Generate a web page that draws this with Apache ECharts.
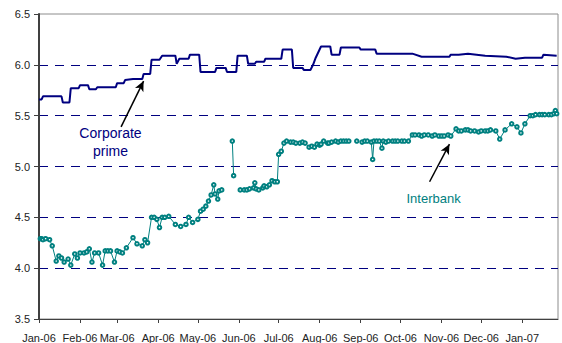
<!DOCTYPE html>
<html>
<head>
<meta charset="utf-8">
<script src="https://cdn.jsdelivr.net/npm/echarts@6/dist/echarts.min.js"></script>
<style>
  html, body { margin: 0; padding: 0; background: #fff; }
  #chart { width: 562px; height: 343px; }
</style>
</head>
<body>
<div id="chart"></div>
<script>
// Month boundaries shown on the x axis and their labels
const monthStarts = ['2006-01-01','2006-02-01','2006-03-01','2006-04-01','2006-05-01','2006-06-01',
  '2006-07-01','2006-08-01','2006-09-01','2006-10-01','2006-11-01','2006-12-01','2007-01-01'];
const monthLabels = ['Jan-06','Feb-06','Mar-06','Apr-06','May-06','Jun-06',
  'Jul-06','Aug-06','Sep-06','Oct-06','Nov-06','Dec-06','Jan-07'];
const yTicks = [3.5, 4.0, 4.5, 5.0, 5.5, 6.0, 6.5];

// Corporate prime rate (percent)
const primeDates = ['2006-01-01','2006-01-03','2006-01-04','2006-01-18','2006-01-19','2006-01-24','2006-01-25',
  '2006-01-31','2006-02-01','2006-02-07','2006-02-08','2006-02-13','2006-02-14','2006-02-28','2006-03-01',
  '2006-03-06','2006-03-07','2006-03-13','2006-03-20','2006-03-21','2006-03-26','2006-03-27','2006-04-02',
  '2006-04-04','2006-04-14','2006-04-15','2006-04-17','2006-04-24','2006-04-25','2006-05-02','2006-05-03',
  '2006-05-14','2006-05-15','2006-05-22','2006-05-23','2006-05-30','2006-05-31','2006-06-07','2006-06-08',
  '2006-06-13','2006-06-14','2006-06-20','2006-06-21','2006-07-03','2006-07-04','2006-07-11','2006-07-12',
  '2006-07-19','2006-07-20','2006-07-25','2006-07-27','2006-07-29','2006-08-02','2006-08-09','2006-08-10',
  '2006-08-16','2006-08-17','2006-08-31','2006-09-01','2006-09-12','2006-09-13','2006-10-10','2006-10-17',
  '2006-11-07','2006-11-08','2006-11-14','2006-11-21','2006-12-04','2006-12-20','2006-12-27','2007-01-03',
  '2007-01-16','2007-01-17','2007-01-27'];
const primeValues = [5.66,5.66,5.69,5.69,5.63,5.63,5.77,
  5.77,5.80,5.80,5.76,5.76,5.78,5.78,5.82,
  5.82,5.85,5.86,5.86,5.91,5.91,6.05,6.05,
  6.09,6.09,6.01,6.06,6.06,6.10,6.10,5.93,
  5.93,5.97,5.97,5.93,5.93,6.09,6.09,6.01,
  6.01,6.03,6.03,6.06,6.06,6.15,6.15,5.97,
  5.97,5.95,5.95,6.00,6.07,6.18,6.18,6.10,
  6.10,6.17,6.17,6.15,6.15,6.11,6.11,6.08,
  6.08,6.10,6.10,6.11,6.09,6.08,6.06,6.07,
  6.07,6.10,6.09];

// Interbank rate (percent); null marks a break in the line
const interbankDates = [
  '2006-01-02','2006-01-03','2006-01-04','2006-01-06','2006-01-09','2006-01-11','2006-01-14','2006-01-16',
  '2006-01-18','2006-01-20','2006-01-23','2006-01-25','2006-01-28','2006-01-30','2006-02-01','2006-02-04',
  '2006-02-06','2006-02-08','2006-02-10','2006-02-12','2006-02-15','2006-02-18','2006-02-20','2006-02-22',
  '2006-02-24','2006-02-27','2006-03-01','2006-03-03','2006-03-05','2006-03-08','2006-03-13','2006-03-16',
  '2006-03-20','2006-03-22','2006-03-24','2006-03-27','2006-03-29','2006-03-31','2006-04-02','2006-04-04',
  '2006-04-06','2006-04-09','2006-04-14','2006-04-18','2006-04-22','2006-04-24','2006-04-27','2006-05-01',
  '2006-05-03','2006-05-05','2006-05-07','2006-05-09','2006-05-11','2006-05-13','2006-05-14','2006-05-16',
  '2006-05-17','2006-05-19','2006-05-23','2006-05-27','2006-05-28','2006-05-30',
  '2006-06-02','2006-06-05','2006-06-07','2006-06-09','2006-06-12','2006-06-13','2006-06-14','2006-06-16',
  '2006-06-19','2006-06-20','2006-06-22','2006-06-24','2006-06-26','2006-06-28','2006-06-30',
  '2006-07-01','2006-07-03','2006-07-05','2006-07-07','2006-07-10','2006-07-12','2006-07-14','2006-07-17',
  '2006-07-19','2006-07-21','2006-07-24','2006-07-26','2006-07-28','2006-07-30','2006-08-01','2006-08-02',
  '2006-08-04','2006-08-07','2006-08-08','2006-08-10','2006-08-13','2006-08-15','2006-08-17','2006-08-19',
  '2006-08-21','2006-08-23','2006-08-26','2006-08-29','2006-08-31',
  '2006-09-02','2006-09-04','2006-09-06','2006-09-09','2006-09-10','2006-09-11','2006-09-13','2006-09-15',
  '2006-09-17','2006-09-18','2006-09-20','2006-09-22','2006-09-25','2006-09-27','2006-09-29','2006-10-02',
  '2006-10-04','2006-10-07','2006-10-10','2006-10-12','2006-10-15','2006-10-17','2006-10-19','2006-10-22',
  '2006-10-25','2006-10-27','2006-10-30','2006-11-01','2006-11-03','2006-11-06','2006-11-08','2006-11-12',
  '2006-11-14','2006-11-16','2006-11-19','2006-11-21','2006-11-23','2006-11-26','2006-11-29','2006-12-01',
  '2006-12-04','2006-12-06','2006-12-08','2006-12-12','2006-12-15','2006-12-19','2006-12-24','2006-12-28',
  '2006-12-31','2007-01-03','2007-01-07','2007-01-09','2007-01-11','2007-01-14','2007-01-16','2007-01-18',
  '2007-01-21','2007-01-23','2007-01-25','2007-01-26','2007-01-27'];
const interbankValues = [
  4.29,4.29,4.28,4.29,4.28,4.22,4.07,4.12,
  4.10,4.06,4.09,4.03,4.14,4.10,4.15,4.15,
  4.16,4.19,4.06,4.15,4.15,4.03,4.17,4.17,
  4.17,4.06,4.17,4.16,4.15,4.20,4.30,4.24,
  4.22,4.28,4.25,4.50,4.50,4.48,4.40,4.50,
  4.50,4.51,4.43,4.41,4.43,4.50,4.45,4.48,
  4.56,4.58,4.61,4.66,4.72,4.82,4.73,4.68,
  4.76,4.77,null,5.25,4.91,null,
  4.77,4.77,4.77,4.78,4.79,4.84,4.78,4.77,
  4.79,4.81,4.80,4.82,4.86,4.85,4.85,
  5.12,5.15,5.23,5.25,5.24,5.24,5.23,5.23,
  5.24,5.23,5.19,5.20,5.19,5.22,5.21,5.22,
  5.25,5.23,5.23,5.24,5.25,5.24,5.25,5.25,
  5.25,5.25,null,5.25,null,
  5.24,5.25,5.25,5.24,5.07,5.25,5.25,5.25,
  5.18,5.25,5.24,5.25,5.25,5.25,5.25,5.25,
  5.25,5.25,5.31,5.31,5.31,5.30,5.31,5.31,
  5.30,5.31,5.30,5.30,5.30,5.31,5.30,5.37,
  5.35,5.35,5.36,5.36,5.35,5.35,5.34,5.35,
  5.35,5.35,5.36,5.35,5.27,5.36,5.42,5.39,
  5.33,5.42,5.50,5.50,5.51,5.51,5.51,5.51,
  5.51,5.51,5.52,5.55,5.52];

// Annotation text and arrow endpoints, in data coordinates
const primeNote = { text: 'Corporate\nprime', at: ['2006-02-24', 5.245] };
const primeArrow = [['2006-03-04', 5.39], ['2006-03-21', 5.84]];
const interbankNote = { text: 'Interbank', at: ['2006-10-26', 4.69] };
const interbankArrow = [['2006-10-23', 4.85], ['2006-11-07', 5.22]];

const NAVY = '#000080';
const TEAL = '#008080';

function ts(s) {
  const p = s.split('-').map(Number);
  return new Date(p[0], p[1] - 1, p[2]).getTime();
}
const monthTs = monthStarts.map(ts);

function pairs(dates, values) {
  return dates.map((d, i) => [ts(d), values[i] === null ? '-' : values[i]]);
}

function arrowLine(seg) {
  return [{ coord: [ts(seg[0][0]), seg[0][1]] }, { coord: [ts(seg[1][0]), seg[1][1]] }];
}

const chart = echarts.init(document.getElementById('chart'), null, { renderer: 'svg' });

chart.setOption({
  animation: false,
  backgroundColor: '#ffffff',
  grid: {
    left: 39, right: 4, top: 14, bottom: 23,
    show: true, borderColor: '#8c8c8c', borderWidth: 1, backgroundColor: 'transparent'
  },
  xAxis: {
    type: 'value',
    min: ts('2006-01-01'),
    max: ts('2007-01-28'),
    axisLine: { show: true, lineStyle: { color: '#404040', width: 1 } },
    axisTick: { show: true, length: 4, lineStyle: { color: '#404040' }, customValues: monthTs },
    axisLabel: {
      customValues: monthTs,
      margin: 13,
      fontFamily: 'Liberation Sans, Arial, sans-serif',
      fontSize: 11,
      color: '#222',
      formatter: function (v) {
        const i = monthTs.indexOf(v);
        return i >= 0 ? monthLabels[i] : '';
      }
    },
    splitLine: { show: false }
  },
  yAxis: {
    type: 'value',
    min: yTicks[0],
    max: yTicks[yTicks.length - 1],
    interval: 0.5,
    axisLine: { show: true, lineStyle: { color: '#404040', width: 2 } },
    axisTick: { show: true, length: 5, lineStyle: { color: '#404040' } },
    axisLabel: {
      margin: 9,
      fontFamily: 'Liberation Sans, Arial, sans-serif',
      fontSize: 11,
      color: '#222',
      formatter: function (v) { return v.toFixed(1); }
    },
    splitLine: {
      show: true,
      showMinLine: false,
      showMaxLine: false,
      lineStyle: { color: NAVY, type: [9, 7], width: 1 }
    }
  },
  series: [
    {
      name: 'Corporate prime',
      type: 'line',
      data: pairs(primeDates, primeValues),
      showSymbol: false,
      lineStyle: { color: NAVY, width: 2 },
      itemStyle: { color: NAVY },
      z: 3,
      markLine: {
        silent: true,
        symbol: ['none', 'arrow'],
        symbolSize: [7, 10],
        lineStyle: { color: '#000', width: 1.5, type: 'solid' },
        label: { show: false },
        data: [arrowLine(primeArrow)]
      },
      markPoint: {
        silent: true,
        symbol: 'circle',
        symbolSize: 0,
        data: [{
          coord: [ts(primeNote.at[0]), primeNote.at[1]],
          label: {
            show: true, position: 'inside', formatter: primeNote.text,
            color: NAVY, fontSize: 14, lineHeight: 18,
            fontFamily: 'Liberation Sans, Arial, sans-serif', align: 'center'
          }
        }]
      }
    },
    {
      name: 'Interbank',
      type: 'line',
      data: pairs(interbankDates, interbankValues),
      connectNulls: false,
      symbol: 'emptyCircle',
      symbolSize: 3.5,
      showSymbol: true,
      lineStyle: { color: TEAL, width: 1 },
      itemStyle: { color: TEAL, borderColor: TEAL, borderWidth: 1 },
      z: 2,
      markLine: {
        silent: true,
        symbol: ['none', 'arrow'],
        symbolSize: [7, 10],
        lineStyle: { color: '#000', width: 1.5, type: 'solid' },
        label: { show: false },
        data: [arrowLine(interbankArrow)]
      },
      markPoint: {
        silent: true,
        symbol: 'circle',
        symbolSize: 0,
        data: [{
          coord: [ts(interbankNote.at[0]), interbankNote.at[1]],
          label: {
            show: true, position: 'inside', formatter: interbankNote.text,
            color: TEAL, fontSize: 13,
            fontFamily: 'Liberation Sans, Arial, sans-serif'
          }
        }]
      }
    }
  ]
});
</script>
</body>
</html>
